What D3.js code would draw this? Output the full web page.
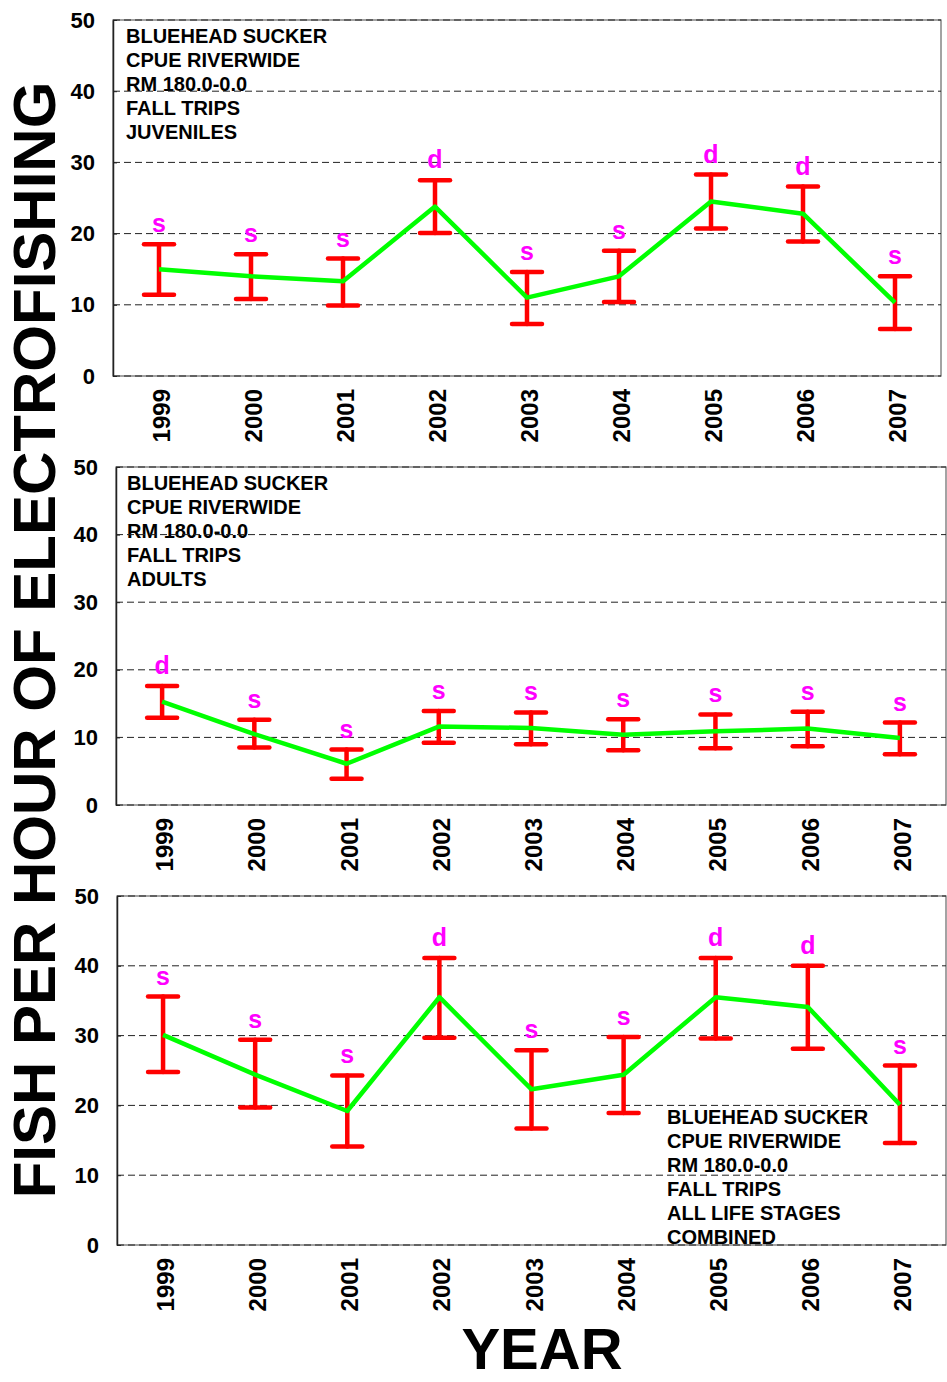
<!DOCTYPE html>
<html>
<head>
<meta charset="utf-8">
<script src="https://cdn.jsdelivr.net/npm/d3@7"></script>
<style>
  body { margin: 0; background: #fff; }
  svg { display: block; font-family: "Liberation Sans", Arial, sans-serif; }
</style>
</head>
<body>
<div id="chart"></div>
<script>
// data
var years = ['1999', '2000', '2001', '2002', '2003', '2004', '2005', '2006', '2007'];
var yTicks = [0, 10, 20, 30, 40, 50];

var juvMean = [15.0, 14.0, 13.3, 23.8, 11.0, 14.0, 24.5, 22.8, 10.3];
var juvLow  = [11.4, 10.8, 9.9, 20.1, 7.3, 10.4, 20.7, 18.9, 6.6];
var juvHigh = [18.5, 17.1, 16.5, 27.5, 14.6, 17.6, 28.3, 26.6, 14.0];
var juvSig  = ['s', 's', 's', 'd', 's', 's', 'd', 'd', 's'];

var adultMean = [15.3, 10.5, 6.1, 11.6, 11.4, 10.4, 10.9, 11.3, 9.9];
var adultLow  = [12.9, 8.5, 3.9, 9.2, 9.0, 8.1, 8.4, 8.7, 7.5];
var adultHigh = [17.6, 12.6, 8.2, 13.9, 13.7, 12.7, 13.4, 13.8, 12.2];
var adultSig  = ['d', 's', 's', 's', 's', 's', 's', 's', 's'];

var allMean = [30.1, 24.4, 19.2, 35.5, 22.3, 24.4, 35.5, 34.1, 20.1];
var allLow  = [24.8, 19.7, 14.1, 29.7, 16.7, 18.9, 29.6, 28.1, 14.6];
var allHigh = [35.6, 29.4, 24.3, 41.1, 27.9, 29.8, 41.1, 40.0, 25.7];
var allSig  = ['s', 's', 's', 'd', 's', 's', 'd', 'd', 's'];

var juvLabel = ['BLUEHEAD SUCKER', 'CPUE RIVERWIDE', 'RM 180.0-0.0', 'FALL TRIPS', 'JUVENILES'];
var adultLabel = ['BLUEHEAD SUCKER', 'CPUE RIVERWIDE', 'RM 180.0-0.0', 'FALL TRIPS', 'ADULTS'];
var allLabel = ['BLUEHEAD SUCKER', 'CPUE RIVERWIDE', 'RM 180.0-0.0', 'FALL TRIPS', 'ALL LIFE STAGES', 'COMBINED'];

var W = 947, H = 1382;
var svg = d3.select('#chart').append('svg').attr('width', W).attr('height', H);

var panels = [
  { mean: juvMean, low: juvLow, high: juvHigh, sig: juvSig, label: juvLabel,
    left: 113, top: 20, right: 941, bottom: 376, tx: 126, ty: 43 },
  { mean: adultMean, low: adultLow, high: adultHigh, sig: adultSig, label: adultLabel,
    left: 116, top: 467, right: 946, bottom: 805, tx: 127, ty: 490 },
  { mean: allMean, low: allLow, high: allHigh, sig: allSig, label: allLabel,
    left: 117, top: 896, right: 946, bottom: 1245, tx: 667, ty: 1124 }
];

panels.forEach(function (p) {
  var x = d3.scaleBand().domain(years).range([p.left, p.right]).padding(0);
  var y = d3.scaleLinear().domain([0, 50]).range([p.bottom, p.top]);
  var cx = function (i) { return x(years[i]) + x.bandwidth() / 2; };

  var g = svg.append('g');

  // annotation block
  g.append('g').selectAll('text')
    .data(p.label).enter().append('text')
    .attr('x', p.tx)
    .attr('y', function (d, i) { return p.ty + i * 24; })
    .attr('font-size', 20)
    .attr('font-weight', 'bold')
    .attr('fill', '#000')
    .text(function (d) { return d; });

  // frame
  g.append('rect')
    .attr('x', p.left).attr('y', p.top)
    .attr('width', p.right - p.left).attr('height', p.bottom - p.top)
    .attr('fill', 'none').attr('stroke', '#666').attr('stroke-width', 1.2);

  // dashed gridlines (incl. top and bottom border)
  g.append('g').selectAll('line')
    .data(yTicks).enter().append('line')
    .attr('x1', p.left).attr('x2', p.right)
    .attr('y1', function (d) { return y(d); })
    .attr('y2', function (d) { return y(d); })
    .attr('stroke', '#222').attr('stroke-width', 1)
    .attr('stroke-dasharray', '7,4');

  // y axis
  var ya = g.append('g')
    .attr('transform', 'translate(' + p.left + ',0)')
    .call(d3.axisLeft(y).tickValues(yTicks).tickSize(-4).tickSizeOuter(0).tickPadding(18));
  ya.select('.domain').attr('stroke', '#222').attr('stroke-width', 1.5);
  ya.selectAll('.tick line').attr('stroke', '#222');
  ya.selectAll('text')
    .attr('font-size', 22).attr('font-weight', 'bold').attr('fill', '#000')
    .attr('font-family', '"Liberation Sans", Arial, sans-serif');

  // x axis labels, rotated
  var xa = g.append('g')
    .attr('transform', 'translate(0,' + p.bottom + ')')
    .call(d3.axisBottom(x).tickSize(0));
  xa.select('.domain').remove();
  xa.selectAll('text')
    .attr('transform', 'rotate(-90)')
    .attr('text-anchor', 'end')
    .attr('x', -13).attr('y', 11).attr('dy', 0)
    .attr('font-size', 24).attr('font-weight', 'bold').attr('fill', '#000')
    .attr('font-family', '"Liberation Sans", Arial, sans-serif');

  // error bars
  var eb = g.append('g').selectAll('g')
    .data(years).enter().append('g')
    .attr('stroke', '#ff0000').attr('stroke-width', 4.5).attr('stroke-linecap', 'round');
  eb.append('line')
    .attr('x1', function (d, i) { return cx(i); })
    .attr('x2', function (d, i) { return cx(i); })
    .attr('y1', function (d, i) { return y(p.low[i]); })
    .attr('y2', function (d, i) { return y(p.high[i]); });
  eb.append('line')
    .attr('x1', function (d, i) { return cx(i) - 15; })
    .attr('x2', function (d, i) { return cx(i) + 15; })
    .attr('y1', function (d, i) { return y(p.high[i]); })
    .attr('y2', function (d, i) { return y(p.high[i]); });
  eb.append('line')
    .attr('x1', function (d, i) { return cx(i) - 15; })
    .attr('x2', function (d, i) { return cx(i) + 15; })
    .attr('y1', function (d, i) { return y(p.low[i]); })
    .attr('y2', function (d, i) { return y(p.low[i]); });

  // mean line
  var line = d3.line()
    .x(function (d, i) { return cx(i); })
    .y(function (d) { return y(d); });
  g.append('path')
    .datum(p.mean)
    .attr('d', line)
    .attr('fill', 'none')
    .attr('stroke', '#00ff00')
    .attr('stroke-width', 4.5)
    .attr('stroke-linejoin', 'round');

  // significance letters
  g.append('g').selectAll('text')
    .data(p.sig).enter().append('text')
    .attr('x', function (d, i) { return cx(i); })
    .attr('y', function (d, i) { return y(p.high[i]) - 12; })
    .attr('text-anchor', 'middle')
    .attr('font-size', 25).attr('font-weight', 'bold')
    .attr('fill', '#ff00ff')
    .text(function (d) { return d; });
});

// axis titles
svg.append('text')
  .attr('transform', 'translate(55,640) rotate(-90)')
  .attr('text-anchor', 'middle')
  .attr('font-size', 60).attr('font-weight', 'bold').attr('fill', '#000')
  .text('FISH PER HOUR OF ELECTROFISHING');

svg.append('text')
  .attr('x', 542).attr('y', 1369)
  .attr('text-anchor', 'middle')
  .attr('font-size', 58).attr('font-weight', 'bold').attr('fill', '#000')
  .text('YEAR');
</script>
</body>
</html>
